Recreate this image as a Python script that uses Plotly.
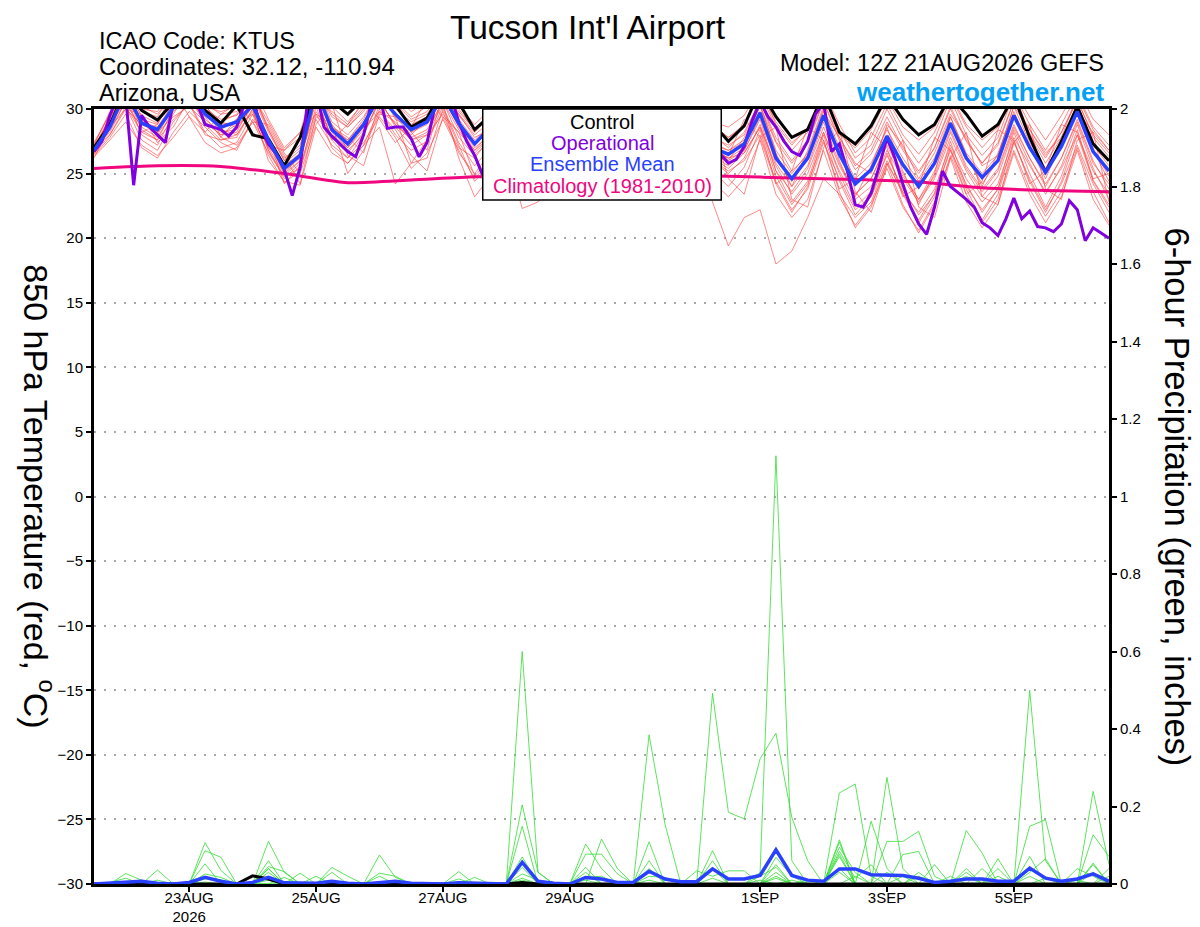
import pandas as pd
import plotly.graph_objects as go

# time axes (6-hourly ensemble, 3-hourly operational, daily climatology)
times = pd.date_range('2026-08-21 12:00', periods=65, freq='6h')
op_times = pd.date_range('2026-08-21 12:00', periods=129, freq='3h')
clim_times = pd.date_range('2026-08-21 12:00', periods=17, freq='D')

tick_dates = ['2026-08-23', '2026-08-25', '2026-08-27', '2026-08-29', '2026-09-01', '2026-09-03', '2026-09-05']
tick_labels = ['23AUG<br>2026', '25AUG', '27AUG', '29AUG', '1SEP', '3SEP', '5SEP']

# 850 hPa temperature (C)
control_t = [27.0, 28.8, 31.5, 29.9, 29.15, 30.5, 31.5, 29.9, 28.9, 30.3, 28.0, 27.7, 25.6,
             27.8, 31.5, 30.6, 29.6, 30.8, 31.2, 30.3, 28.6, 29.3, 31.5, 30.5, 28.4,
             29.5, 31.2, 29.3, 28.2, 29.6, 31.0, 29.4, 28.0, 29.2, 31.0, 29.2, 27.8, 29.0, 30.8, 28.9,
             27.5, 28.7, 31.5, 29.4, 27.8, 28.4, 31.2, 28.2, 27.3, 28.7, 31.0, 29.2, 28.0, 28.8, 31.0,
             29.6, 27.9, 28.8, 31.0, 27.8, 25.1, 27.5, 30.2, 27.3, 26.0]

mean_t = [26.8, 28.6, 31.4, 28.9, 28.4, 30.1, 31.5, 29.6, 28.6, 29.0, 30.3, 27.6, 25.4,
          26.4, 31.5, 28.4, 27.3, 28.8, 31.0, 29.6, 28.4, 29.0, 31.0, 28.9, 27.3,
          28.6, 30.5, 28.5, 27.0, 28.2, 30.3, 28.3, 26.8, 28.0, 30.0, 28.0, 26.5, 27.8, 29.5, 27.0,
          26.5, 27.3, 29.7, 26.2, 24.6, 26.2, 29.5, 26.5, 24.2, 25.3, 27.9, 25.7, 24.0, 25.8, 28.9,
          26.2, 24.7, 26.0, 29.5, 27.0, 25.1, 27.1, 29.8, 26.7, 25.2]

operational_t = [26.7, 27.5, 29.5, 31.0, 31.0, 24.1, 29.5, 28.6, 28.0, 27.4, 30.5, 31.5, 31.5, 30.5,
                 28.8, 28.6, 28.4, 27.9, 28.6, 30.5, 31.0, 28.6, 27.3, 26.5, 25.3, 23.3, 25.5, 31.0,
                 31.5, 28.6, 27.9, 27.3, 26.7, 26.3, 28.0, 30.5, 31.0, 28.5, 28.6, 28.6, 27.7, 26.3,
                 27.4, 30.2, 31.0, 31.0, 29.0, 27.5, 26.4, 24.9,
                 26.0, 27.5, 30.2, 30.8, 29.5, 28.0, 26.5, 25.5, 26.8, 28.5, 30.5, 30.2, 28.8, 27.6,
                 26.2, 25.6, 27.0, 28.8, 30.6, 30.4, 29.0, 27.5, 26.0, 25.4, 26.6, 28.5, 30.3, 29.2,
                 27.4, 26.5,
                 25.8, 26.1, 27.1, 29.1, 30.6, 29.4, 28.6, 27.5, 26.7, 26.4, 27.5, 29.6, 30.5, 26.7,
                 27.3, 25.2, 22.6, 22.4, 23.5, 25.5, 27.8, 26.2, 24.2, 22.4, 21.1, 20.3, 22.4, 25.2,
                 24.0, 23.5, 23.0, 22.4, 21.2, 20.8, 20.2, 21.5, 23.1, 21.5, 22.1, 20.9, 20.8, 20.5,
                 21.1, 22.9, 22.2, 19.8, 20.8, 20.4, 20.0]

climatology_t = [25.4, 25.6, 25.55, 25.0, 24.3, 24.5, 24.75, 24.82, 24.85, 24.85, 24.8, 24.65,
                 24.55, 24.35, 23.9, 23.7, 23.6]

member_t01 = [27.0, 29.2, 31.5, 29.5, 28.9, 30.8, 31.8, 30.0, 29.2, 29.5, 31.0, 28.2, 26.0,
              27.0, 31.8, 29.0, 28.0, 29.4, 31.5, 30.0, 29.0, 29.6, 31.4, 29.5, 28.0,
              29.0, 31.0, 29.2, 27.8, 29.0, 31.0, 29.0, 27.5, 28.6, 30.6, 28.8, 27.2, 28.5, 30.2, 27.8,
              27.2, 28.0, 30.6, 27.5, 25.8, 27.4, 30.5, 27.6, 25.3, 26.5, 29.0, 26.8, 25.0, 27.0, 30.0,
              27.5, 25.8, 27.2, 30.6, 28.1, 26.2, 28.2, 30.8, 27.8, 26.3]
member_t02 = [26.5, 28.0, 30.2, 27.6, 26.8, 29.0, 30.5, 28.2, 27.0, 27.4, 29.6, 26.4, 24.3,
              25.2, 30.2, 27.0, 25.8, 27.2, 30.0, 28.0, 26.8, 27.5, 30.2, 27.4, 25.6,
              27.0, 29.5, 27.0, 25.4, 26.6, 29.4, 26.8, 25.0, 26.4, 29.0, 26.4, 24.8, 26.2, 28.4, 25.2,
              24.0, 25.5, 28.4, 24.2, 22.0, 24.0, 28.0, 24.4, 21.8, 23.2, 26.6, 23.5, 21.4, 23.5, 27.5,
              24.0, 22.2, 23.8, 28.2, 25.0, 22.4, 24.8, 28.4, 24.5, 22.6]
member_t03 = [27.2, 29.8, 32.0, 30.6, 30.2, 31.8, 32.5, 31.0, 30.4, 30.6, 31.8, 29.2, 27.0,
              28.2, 32.4, 30.2, 29.0, 30.5, 32.2, 31.0, 29.8, 30.6, 32.0, 30.2, 28.8,
              30.0, 31.8, 30.2, 28.8, 30.0, 31.6, 30.0, 28.6, 29.8, 31.4, 29.6, 28.2, 29.4, 31.0, 29.0,
              28.6, 29.5, 31.6, 28.8, 27.2, 28.6, 31.4, 28.8, 26.6, 27.8, 30.4, 28.0, 26.5, 28.2, 31.0,
              28.6, 27.0, 28.4, 31.5, 29.4, 27.6, 29.5, 31.6, 29.2, 28.0]
member_t04 = [26.6, 28.4, 30.6, 29.2, 28.0, 30.2, 31.0, 29.0, 28.0, 28.2, 30.5, 27.0, 25.0,
              26.0, 30.8, 27.8, 26.6, 28.2, 30.6, 28.8, 27.6, 28.2, 30.6, 27.8, 26.4,
              27.6, 29.8, 27.4, 26.2, 27.4, 29.6, 27.4, 25.8, 26.8, 28.6, 26.0, 24.6, 25.6, 26.8, 22.8,
              19.4, 21.6, 22.2, 18.0, 19.0, 21.6, 24.6, 23.4, 21.6, 22.8, 25.8, 23.6, 22.0, 23.8, 27.2,
              24.6, 22.8, 24.2, 27.8, 25.6, 23.6, 25.4, 28.0, 25.2, 23.4]
member_t05 = [26.9, 29.0, 31.2, 28.4, 27.6, 30.0, 31.0, 28.8, 27.6, 28.0, 30.0, 26.8, 24.6,
              25.8, 31.0, 27.6, 26.2, 28.0, 30.8, 28.6, 27.2, 28.0, 30.4, 26.2, 23.2,
              24.8, 26.8, 22.3, 22.8, 25.4, 28.6, 26.4, 24.8, 26.8, 29.2, 27.0, 25.2, 26.6, 28.8, 26.0,
              25.0, 26.2, 28.8, 25.2, 23.6, 25.4, 28.6, 25.6, 23.4, 24.6, 27.2, 24.8, 23.0, 24.8, 28.2,
              25.4, 23.6, 25.2, 28.6, 26.2, 24.2, 26.2, 29.0, 25.8, 24.2]
member_t06 = [27.4, 29.6, 30.8, 30.2, 29.6, 31.2, 30.6, 29.4, 27.8, 29.2, 31.2, 28.6, 26.4,
              24.2, 29.4, 28.6, 27.8, 26.6, 30.4, 30.8, 28.2, 26.8, 31.2, 29.6, 27.8,
              28.4, 30.8, 29.6, 27.2, 28.6, 30.4, 29.2, 27.4, 27.8, 30.6, 28.6, 26.6, 27.0, 29.8, 27.6,
              26.0, 27.8, 30.2, 27.4, 25.2, 26.4, 29.8, 27.8, 25.8, 25.0, 28.8, 27.2, 24.6, 26.6, 29.6,
              27.8, 25.6, 26.4, 30.2, 28.4, 26.6, 27.8, 29.8, 28.2, 26.8]
member_t07 = [26.2, 28.6, 31.0, 28.0, 27.2, 29.6, 31.6, 29.8, 28.4, 28.0, 29.8, 27.0, 25.8,
              26.8, 31.2, 28.6, 27.6, 29.2, 31.6, 29.2, 28.6, 29.4, 31.0, 28.6, 26.8,
              28.2, 30.6, 28.0, 26.4, 27.8, 29.8, 27.6, 26.2, 27.6, 29.6, 27.4, 25.6, 27.0, 29.0, 26.4,
              25.6, 26.8, 29.2, 25.2, 22.8, 24.4, 28.2, 25.0, 22.4, 23.6, 26.4, 23.8, 21.8, 23.4, 26.8,
              24.2, 22.0, 23.8, 27.4, 24.6, 22.2, 24.2, 27.2, 24.2, 22.0]
member_t08 = [27.0, 28.8, 31.6, 29.8, 29.4, 31.4, 32.0, 30.4, 29.6, 29.8, 31.4, 28.4, 26.2,
              27.2, 31.6, 29.4, 28.6, 29.8, 31.8, 30.4, 29.2, 29.8, 31.6, 29.6, 28.2,
              29.4, 31.4, 29.6, 28.2, 29.4, 31.2, 29.6, 28.0, 29.2, 31.0, 29.2, 27.6, 28.8, 30.8, 28.6,
              27.8, 28.8, 31.2, 28.6, 26.8, 28.2, 31.2, 28.4, 26.2, 27.2, 30.0, 27.6, 25.8, 27.6, 30.8,
              28.0, 26.4, 27.8, 31.2, 28.8, 26.8, 28.8, 31.2, 28.6, 27.2]
member_t09 = [26.4, 27.8, 29.6, 27.0, 26.2, 28.2, 29.8, 28.6, 27.4, 26.8, 29.2, 27.8, 24.2,
              25.6, 29.6, 28.8, 25.0, 26.8, 29.8, 28.4, 26.4, 25.2, 29.4, 28.2, 24.8,
              26.2, 30.2, 28.4, 26.0, 28.2, 30.6, 28.8, 26.6, 28.6, 30.4, 28.2, 26.0, 27.6, 29.4, 26.8,
              26.2, 27.0, 30.4, 26.6, 24.0, 26.8, 30.2, 26.0, 23.2, 25.6, 28.6, 25.2, 22.6, 25.0, 29.4,
              26.4, 24.0, 26.6, 29.8, 27.0, 24.6, 27.4, 30.4, 26.8, 24.4]
member_t10 = [27.0, 29.0, 30.8, 29.0, 28.6, 30.4, 31.2, 29.6, 28.8, 29.0, 30.6, 27.8, 25.6,
              26.6, 31.2, 28.2, 27.0, 28.6, 31.0, 29.6, 28.2, 28.8, 31.2, 28.8, 27.0,
              28.0, 30.4, 28.2, 26.6, 27.6, 30.0, 28.0, 26.4, 27.4, 29.6, 27.2, 25.4, 26.6, 28.8, 26.2,
              25.4, 26.6, 28.6, 24.8, 22.6, 24.2, 27.6, 23.6, 20.8, 22.4, 25.8, 22.6, 20.4, 22.6, 26.4,
              23.4, 21.2, 23.0, 26.8, 23.8, 21.7, 23.6, 27.0, 23.6, 21.2]
member_t11 = [26.8, 29.4, 31.8, 29.4, 28.2, 30.6, 31.4, 30.2, 29.0, 28.6, 30.2, 27.4, 25.2,
              26.2, 31.4, 28.8, 27.4, 28.6, 31.2, 29.4, 28.0, 29.2, 31.4, 29.2, 27.6,
              28.8, 30.8, 28.8, 27.4, 28.6, 30.8, 28.6, 27.2, 28.4, 30.4, 28.4, 27.0, 28.2, 30.0, 27.4,
              26.8, 27.6, 30.2, 26.8, 25.0, 26.6, 30.0, 27.0, 24.6, 25.8, 28.4, 26.2, 24.4, 26.2, 29.4,
              26.6, 25.0, 26.4, 30.2, 27.4, 25.4, 27.4, 30.4, 27.2, 25.6]
member_t12 = [27.2, 29.0, 30.4, 28.6, 27.8, 29.8, 30.8, 29.2, 28.2, 28.4, 30.2, 26.8, 24.8,
              26.0, 30.6, 27.8, 26.8, 28.0, 30.6, 28.8, 27.8, 28.4, 30.6, 28.4, 26.6,
              27.8, 30.0, 27.8, 26.4, 27.6, 29.8, 27.8, 26.2, 27.4, 29.6, 27.4, 25.8, 27.0, 29.0, 26.6,
              26.0, 26.8, 29.4, 25.8, 24.0, 25.6, 29.0, 25.8, 23.4, 24.6, 27.4, 25.0, 23.0, 25.2, 28.4,
              25.6, 23.8, 25.4, 28.8, 26.2, 24.0, 26.2, 29.2, 26.0, 23.8]
member_t13 = [26.6, 28.6, 30.0, 28.8, 28.2, 29.4, 30.2, 29.0, 28.0, 28.8, 29.6, 27.4, 25.0,
              26.4, 29.8, 28.0, 27.0, 28.4, 29.8, 29.0, 27.6, 28.0, 29.6, 28.2, 26.8,
              27.8, 29.4, 28.0, 26.8, 27.8, 29.4, 28.0, 26.8, 27.6, 29.2, 27.6, 26.2, 27.4, 29.0, 26.8,
              26.2, 26.6, 28.6, 25.6, 23.4, 25.0, 28.2, 25.2, 23.0, 24.0, 26.8, 24.6, 22.8, 24.6, 27.8,
              25.2, 23.2, 24.8, 28.4, 25.8, 23.4, 25.6, 28.8, 25.4, 23.0]
member_t14 = [27.1, 28.9, 31.2, 29.8, 29.2, 30.8, 31.6, 29.8, 29.0, 29.6, 31.2, 28.4, 26.0,
              27.6, 31.6, 29.6, 28.6, 30.0, 31.6, 30.2, 28.8, 29.4, 31.6, 30.0, 28.4,
              29.6, 31.4, 29.4, 28.2, 29.6, 31.2, 29.4, 28.0, 29.4, 31.2, 29.4, 27.8, 29.2, 31.0, 28.8,
              27.8, 28.6, 31.4, 29.0, 27.4, 28.4, 31.2, 28.0, 27.0, 28.4, 30.8, 28.6, 27.6, 28.6, 31.2,
              28.8, 27.6, 28.6, 31.4, 28.0, 25.8, 27.8, 31.0, 28.4, 26.8]
member_t15 = [26.9, 28.2, 30.6, 28.2, 27.6, 29.2, 30.4, 28.0, 27.6, 27.8, 30.0, 26.0, 24.4,
              24.1, 28.6, 26.6, 25.8, 27.2, 28.6, 24.2, 25.8, 27.6, 29.8, 26.6, 25.0,
              26.6, 29.0, 26.8, 25.2, 26.8, 29.2, 26.8, 25.4, 26.8, 29.0, 26.8, 25.2, 26.6, 28.6, 26.0,
              25.2, 26.0, 28.0, 24.4, 22.2, 23.8, 27.4, 24.6, 22.2, 23.2, 26.0, 23.4, 21.2, 23.2, 27.0,
              23.8, 21.4, 23.4, 27.6, 24.4, 22.0, 24.4, 28.0, 24.4, 22.4]
member_t16 = [26.7, 29.2, 31.4, 29.2, 28.8, 31.0, 31.8, 30.4, 28.4, 29.2, 30.8, 27.6, 25.4,
              26.6, 31.2, 28.4, 27.6, 29.0, 31.2, 29.6, 28.6, 29.0, 31.0, 28.6, 27.2,
              28.4, 30.6, 28.6, 27.2, 28.4, 30.4, 28.4, 26.8, 28.2, 30.2, 28.0, 26.4, 27.8, 29.6, 27.2,
              26.8, 27.4, 29.8, 26.4, 24.4, 26.2, 29.4, 26.6, 24.2, 25.2, 28.0, 25.8, 23.8, 25.8, 29.0,
              26.4, 24.2, 26.0, 29.6, 27.2, 25.0, 27.0, 29.8, 26.8, 24.8]
member_t17 = [26.9, 28.0, 30.0, 29.6, 27.4, 28.6, 30.8, 30.6, 27.8, 27.2, 29.0, 28.8, 26.6,
              25.0, 28.8, 30.4, 26.4, 25.6, 29.6, 29.4, 25.8, 26.2, 30.0, 27.2, 24.4,
              25.8, 29.6, 29.8, 26.6, 25.8, 28.8, 29.8, 26.8, 25.6, 28.6, 29.2, 25.8, 24.8, 28.4, 28.8,
              24.6, 23.4, 27.8, 28.6, 23.0, 22.4, 27.0, 28.4, 23.6, 22.0, 25.6, 27.6, 22.4, 21.6, 26.2,
              28.2, 23.2, 22.6, 27.4, 28.8, 23.8, 23.0, 27.6, 28.2, 22.8]
member_t18 = [27.3, 29.6, 30.2, 28.2, 28.8, 31.6, 29.4, 28.2, 29.6, 30.4, 29.0, 27.2, 26.8,
              28.2, 29.6, 27.6, 28.8, 30.6, 29.2, 27.4, 28.6, 30.8, 29.4, 27.0, 26.2,
              27.8, 29.2, 27.0, 27.8, 30.2, 29.0, 26.8, 27.6, 30.0, 28.4, 26.2, 27.0, 29.6, 28.0, 25.6,
              26.4, 29.2, 27.8, 24.2, 25.2, 28.6, 27.6, 23.8, 24.6, 28.2, 27.0, 23.2, 24.0, 27.8, 26.8,
              23.4, 24.4, 28.4, 27.6, 24.2, 25.2, 28.8, 28.2, 24.6, 25.0]
member_t19 = [26.3, 27.6, 29.0, 27.2, 26.4, 27.8, 29.4, 27.4, 26.6, 27.0, 29.0, 26.6, 24.8,
              25.4, 29.2, 27.2, 26.2, 27.4, 29.4, 27.8, 25.4, 26.6, 29.2, 26.8, 24.6,
              26.0, 28.6, 26.4, 24.6, 25.8, 28.4, 26.0, 24.2, 25.6, 28.0, 25.6, 23.6, 24.8, 27.4, 24.4,
              23.2, 24.6, 27.6, 23.4, 21.6, 23.0, 26.8, 23.2, 21.0, 22.6, 25.4, 22.4, 20.6, 22.8, 26.2,
              22.8, 20.8, 22.6, 26.6, 23.4, 21.2, 23.2, 26.8, 23.0, 21.0]
member_t20 = [27.0, 29.4, 31.0, 30.0, 29.8, 31.4, 31.2, 30.2, 29.8, 30.2, 31.0, 29.0, 26.8,
              27.8, 31.0, 29.8, 28.8, 30.2, 31.4, 30.6, 29.4, 30.2, 31.2, 29.8, 28.4,
              29.2, 30.8, 29.0, 27.6, 28.8, 30.6, 28.8, 27.4, 28.8, 30.4, 28.6, 27.0, 28.4, 30.2, 28.0,
              27.0, 28.2, 30.6, 27.8, 26.0, 27.6, 30.6, 27.8, 25.6, 26.8, 29.4, 27.0, 25.2, 27.0, 30.2,
              27.6, 25.8, 27.4, 30.6, 28.4, 26.4, 28.2, 30.6, 28.0, 26.6]

temp_members = [member_t01, member_t02, member_t03, member_t04, member_t05, member_t06, member_t07,
                member_t08, member_t09, member_t10, member_t11, member_t12, member_t13, member_t14,
                member_t15, member_t16, member_t17, member_t18, member_t19, member_t20]

# 6-hour precipitation (inches)
control_p = [0, 0, 0, 0, 0, 0, 0, 0, 0, 0, .021, .013, 0,
             0, 0, 0, 0, 0, 0, 0, 0, 0, 0, 0, 0, 0,
             0, .004, 0, 0, 0, 0, 0, 0, 0, 0, 0, 0, 0,
             0, 0, 0, 0, 0, 0, 0, 0, 0, 0, 0, 0, 0,
             0, 0, 0, 0, 0, 0, 0, 0, 0, 0, 0, 0, 0]
mean_p = [0, .002, .004, .007, .002, 0, .004, .017, .007, 0, .004, .017, .003,
          .003, .002, .007, .002, 0, .003, .007, .002, 0, 0, .003, .002, 0,
          0, .056, .007, .002, 0, .017, .013, .004, .004, .033, .013, .006, .006,
          .039, .013, .013, .022, .088, .022, .01, .007, .039, .039, .024, .022, .022,
          .015, .004, .007, .013, .013, .007, .007, .041, .015, .007, .013, .026, .007]

member_p01 = [0, 0, 0, 0, 0, 0, 0, .107, .035, 0, 0, .04, 0,
              0, 0, 0, 0, 0, 0, 0, 0, 0, 0, 0, 0, 0,
              0, .6, .03, 0, 0, 0, 0, 0, 0, .385, .155, 0, 0,
              0, 0, 0, 0, .05, 0, 0, 0, .077, 0, 0, .275, .04,
              0, 0, 0, 0, 0, 0, 0, .5, .06, 0, 0, .05, 0]
member_p02 = [0, 0, 0, 0, 0, 0, 0, .086, .069, 0, 0, .11, .03,
              0, 0, 0, 0, 0, 0, 0, 0, 0, 0, 0, 0, 0,
              0, .204, .03, 0, 0, .103, .04, 0, 0, 0, 0, 0, 0,
              .492, .185, .168, .323, .389, .172, .06, 0, .04, 0, 0, 0, 0,
              .02, 0, 0, .04, 0, 0, 0, 0, 0, 0, 0, .239, .05]
member_p03 = [0, 0, 0, 0, .036, 0, 0, 0, 0, 0, 0, .06, 0,
              0, 0, .043, .02, 0, 0, 0, 0, 0, 0, 0, 0, 0,
              0, .149, 0, 0, 0, .077, .077, .026, 0, 0, 0, 0, 0,
              0, 0, 0, .03, 1.105, .06, 0, 0, .235, .258, .02, 0, 0,
              0, 0, 0, .138, .08, 0, 0, .149, .166, 0, 0, 0, 0]
member_p04 = [0, 0, .027, .01, 0, 0, 0, .052, 0, 0, 0, .045, .032,
              0, 0, 0, 0, 0, .075, .017, 0, 0, 0, 0, 0, 0,
              0, .07, 0, 0, 0, 0, .116, .04, 0, .109, 0, 0, 0,
              .086, 0, 0, 0, 0, 0, 0, 0, .108, 0, .162, .04, 0,
              0, 0, 0, 0, 0, .065, 0, 0, 0, 0, 0, .127, .071]
member_p05 = [0, 0, 0, 0, 0, 0, 0, .026, .017, 0, 0, .039, 0,
              .028, 0, 0, 0, 0, .028, .02, 0, 0, 0, .032, 0, 0,
              0, .06, 0, 0, 0, .043, 0, 0, 0, .06, 0, 0, .034,
              .02, .034, .034, 0, .069, .02, 0, 0, .114, 0, 0, .11, .11,
              .136, .02, 0, 0, 0, 0, 0, .071, 0, 0, 0, 0, .02]
member_p06 = [0, .004, .015, 0, .01, 0, 0, 0, 0, 0, 0, .03, 0,
              0, 0, .03, 0, 0, 0, 0, 0, 0, 0, 0, .017, 0,
              0, .043, 0, 0, 0, .03, 0, 0, 0, .04, 0, 0, 0,
              .06, 0, 0, .02, .043, 0, 0, 0, .095, .03, 0, 0, .076,
              .084, 0, 0, .03, 0, 0, 0, .03, .065, 0, 0, .054, 0]
member_p07 = [0, 0, 0, 0, 0, 0, 0, .013, .011, 0, 0, 0, .017,
              0, .02, 0, 0, 0, 0, 0, 0, 0, 0, 0, 0, 0,
              0, .026, .01, 0, 0, .017, .02, 0, 0, 0, 0, 0, 0,
              .04, 0, 0, 0, .03, 0, 0, 0, .084, .015, .05, 0, 0,
              0, .05, 0, 0, 0, .04, 0, 0, 0, 0, .04, .02, 0]
member_p08 = [0, 0, 0, 0, 0, 0, 0, 0, 0, 0, 0, 0, 0,
              0, 0, 0, 0, 0, .02, 0, 0, 0, 0, .013, 0, 0,
              0, .015, 0, 0, 0, 0, 0, 0, 0, .02, .017, 0, 0,
              0, 0, 0, 0, .02, 0, .01, 0, .071, 0, 0, .03, 0,
              0, 0, .02, 0, .04, 0, 0, .02, 0, 0, 0, 0, .04]
member_p09 = [0, 0, 0, 0, 0, 0, 0, .005, 0, 0, 0, .01, 0,
              0, 0, 0, 0, 0, 0, 0, 0, 0, 0, 0, 0, 0,
              0, .01, 0, 0, 0, .01, 0, 0, 0, 0, 0, 0, 0,
              .015, 0, 0, 0, .015, 0, 0, 0, .03, 0, 0, 0, 0,
              .03, 0, 0, .02, 0, 0, 0, 0, .015, 0, 0, .03, 0]
member_p10 = [0, 0, 0, 0, 0, 0, 0, 0, 0, 0, 0, 0, 0,
              0, 0, 0, 0, 0, 0, 0, 0, 0, 0, 0, 0, 0,
              0, .005, 0, 0, 0, 0, 0, 0, 0, .01, 0, 0, 0,
              0, 0, 0, .01, 0, .01, 0, 0, 0, .02, 0, 0, .02,
              0, 0, 0, 0, 0, .02, 0, 0, 0, 0, .01, 0, 0]

precip_members = [member_p01, member_p02, member_p03, member_p04, member_p05,
                  member_p06, member_p07, member_p08, member_p09, member_p10]

legend_lines = ['Control', 'Operational', 'Ensemble Mean', 'Climatology (1981-2010)']

FONT = 'Liberation Sans, Arial, sans-serif'
RED = 'rgba(255,70,70,0.8)'
GREEN = '#33dd33'
PURPLE = '#8000e0'
BLUE = '#2a40ff'
PINK = '#f0067f'
legend_colors = ['black', PURPLE, BLUE, PINK]

fig = go.Figure()

for member in temp_members:
    fig.add_trace(go.Scatter(x=times, y=member, mode='lines',
                             line=dict(color=RED, width=0.8), hoverinfo='skip'))

fig.add_trace(go.Scatter(x=clim_times, y=climatology_t, mode='lines',
                         line=dict(color=PINK, width=3, shape='spline', smoothing=0.6)))
fig.add_trace(go.Scatter(x=times, y=control_t, mode='lines', line=dict(color='black', width=3)))
fig.add_trace(go.Scatter(x=op_times, y=operational_t, mode='lines', line=dict(color=PURPLE, width=3)))
fig.add_trace(go.Scatter(x=times, y=mean_t, mode='lines', line=dict(color=BLUE, width=3.5)))

for member in precip_members:
    fig.add_trace(go.Scatter(x=times, y=member, yaxis='y2', mode='lines',
                             line=dict(color=GREEN, width=0.8), hoverinfo='skip'))
fig.add_trace(go.Scatter(x=times, y=control_p, yaxis='y2', mode='lines', line=dict(color='black', width=3)))
fig.add_trace(go.Scatter(x=times, y=mean_p, yaxis='y2', mode='lines', line=dict(color=BLUE, width=3.5)))

# margins compensate for the page offset of the rendered figure
fig.update_layout(
    width=1200, height=927,
    margin=dict(l=86, r=99, t=101, b=51),
    paper_bgcolor='white', plot_bgcolor='white',
    showlegend=False,
    font=dict(family=FONT, color='black', size=15),
    xaxis=dict(
        range=[times[0], times[-1]], automargin=False,
        tickvals=pd.to_datetime(tick_dates), ticktext=tick_labels,
        ticks='outside', ticklen=5, tickwidth=1.5, tickcolor='black',
        ticklabelstandoff=-7,
        showline=True, linecolor='black', linewidth=2.5, mirror=True,
        showgrid=False, zeroline=False,
        tickfont=dict(size=15),
    ),
    yaxis=dict(
        range=[-30, 30], tickvals=list(range(-30, 31, 5)), automargin=False,
        ticks='outside', ticklen=5, tickwidth=1.5, tickcolor='black',
        showline=True, linecolor='black', linewidth=3,
        showgrid=True, gridcolor='#a8a8a8', griddash='2px,8px', gridwidth=1.5,
        zeroline=False, tickfont=dict(size=15),
    ),
    yaxis2=dict(
        range=[0, 2], tickvals=[0, 0.2, 0.4, 0.6, 0.8, 1, 1.2, 1.4, 1.6, 1.8, 2],
        overlaying='y', side='right', automargin=False,
        ticks='outside', ticklen=5, tickwidth=1.5, tickcolor='black',
        showline=True, linecolor='black', linewidth=3,
        showgrid=False, zeroline=False, tickfont=dict(size=15),
    ),
)

# legend box
fig.add_shape(type='rect', xref='paper', yref='paper', x0=0.383, x1=0.618, y0=0.8826, y1=1.0,
              line=dict(color='black', width=1.5), fillcolor='white', layer='above')
legend_y = [0.983, 0.956, 0.929, 0.901]
for label, color, ly in zip(legend_lines, legend_colors, legend_y):
    fig.add_annotation(x=0.5005, y=ly, xref='paper', yref='paper', text=label, showarrow=False,
                       font=dict(size=20, color=color), xanchor='center', yanchor='middle')

# header texts
fig.add_annotation(x=0.487, y=1.105, xref='paper', yref='paper', text="Tucson Int'l Airport",
                   showarrow=False, font=dict(size=33.5), xanchor='center', yanchor='middle')
fig.add_annotation(x=0.003, y=1.0877, xref='paper', yref='paper', text='ICAO Code: KTUS',
                   showarrow=False, font=dict(size=23.5), xanchor='left', yanchor='middle')
fig.add_annotation(x=0.003, y=1.0542, xref='paper', yref='paper', text='Coordinates: 32.12, -110.94',
                   showarrow=False, font=dict(size=24), xanchor='left', yanchor='middle')
fig.add_annotation(x=0.003, y=1.0206, xref='paper', yref='paper', text='Arizona, USA',
                   showarrow=False, font=dict(size=23.5), xanchor='left', yanchor='middle')
fig.add_annotation(x=0.997, y=1.059, xref='paper', yref='paper', text='Model: 12Z 21AUG2026 GEFS',
                   showarrow=False, font=dict(size=23.5), xanchor='right', yanchor='middle')
fig.add_annotation(x=0.997, y=1.0215, xref='paper', yref='paper', text='<b>weathertogether.net</b>',
                   showarrow=False, font=dict(size=26, color='#03a0f5'), xanchor='right', yanchor='middle')

# axis titles (both read top to bottom)
fig.add_annotation(x=-0.054, y=0.5, xref='paper', yref='paper', text='850 hPa Temperature (red, <sup>o</sup>C)',
                   showarrow=False, font=dict(size=34), textangle=90, xanchor='center', yanchor='middle')
fig.add_annotation(x=1.067, y=0.5, xref='paper', yref='paper', text='6-hour Precipitation (green, inches)',
                   showarrow=False, font=dict(size=34.5), textangle=90, xanchor='center', yanchor='middle')

fig.write_html('out.html')
